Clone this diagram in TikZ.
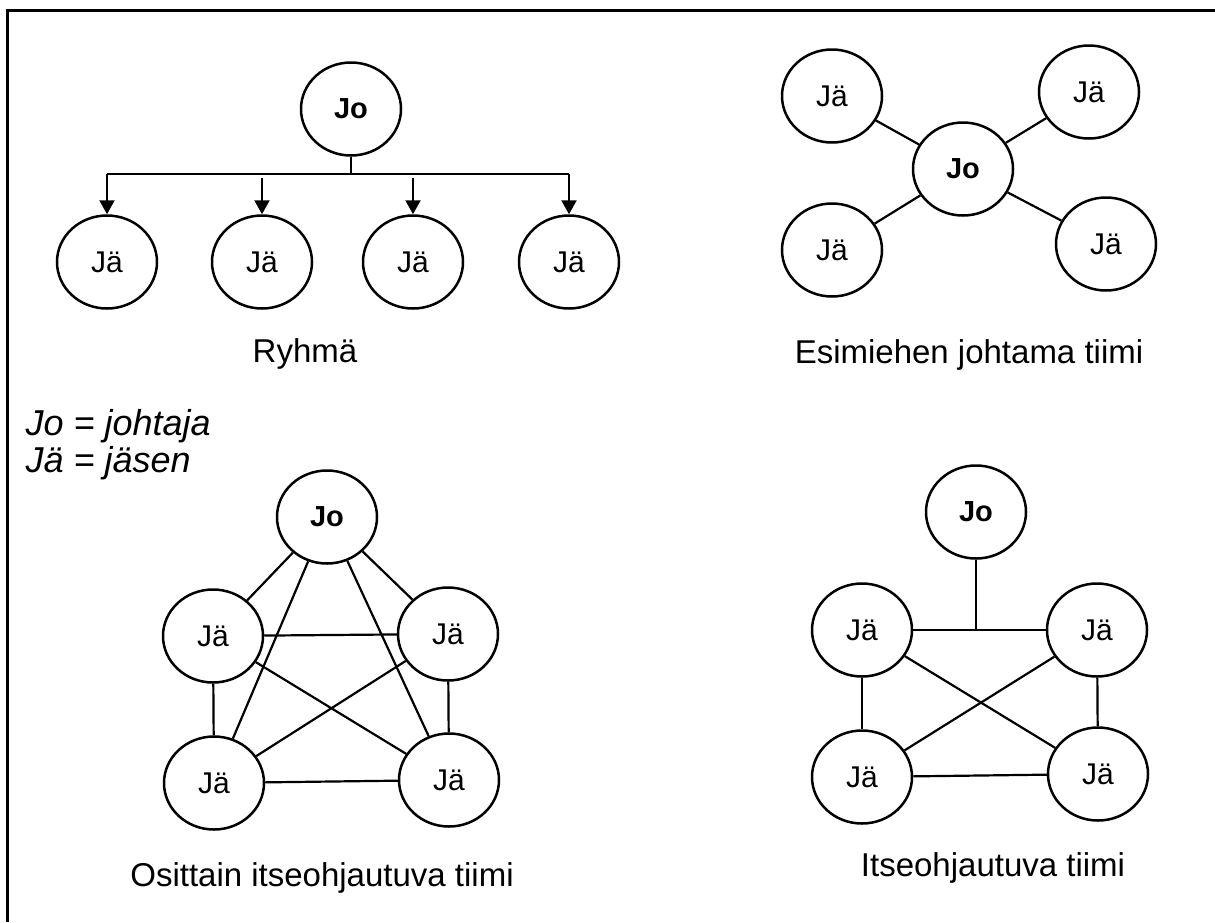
\documentclass[tikz,border=0pt]{standalone}
\usepackage{fontspec}
\setmainfont{Liberation Sans}
\usetikzlibrary{shapes.geometric,arrows.meta}
\begin{document}
\begin{tikzpicture}[x=1pt,y=-1pt,
  mem/.style={ellipse,draw,line width=2.5pt,minimum width=100pt,minimum height=93pt,inner sep=0pt,font=\fontsize{30}{32}\selectfont},
  lead/.style={mem,font=\fontsize{29}{32}\selectfont\bfseries},
  link/.style={line width=2.2pt},
  arr/.style={line width=2.2pt,-{Triangle[length=14pt,width=15pt]}},
  capt/.style={anchor=base,font=\fontsize{33}{36}\selectfont},
  legend/.style={anchor=base west,font=\fontsize{36}{40}\selectfont\itshape},
  frame/.style={line width=3pt}]
\useasboundingbox (0,0) rectangle (1215,922);
% frame (top and left)
\coordinate (fTL) at (7,10);
\coordinate (fTR) at (1215,10);
\coordinate (fBL) at (7,922);
\draw[frame] (fTR) -- (fTL) -- (fBL);

% ---------- Ryhma ----------
\node[lead] (rJo) at (351,109) {Jo};
\node[mem] (r1) at (107,262) {Jä};
\node[mem] (r2) at (262,262) {Jä};
\node[mem] (r3) at (413,262) {Jä};
\node[mem] (r4) at (569,262) {Jä};
\coordinate (rbus) at (351,174);
\draw[link] (rJo) -- (rbus);
\draw[link] (r1 |- rbus) -- (r4 |- rbus);
\draw[arr] (r1 |- rbus) -- (r1.north);
\draw[arr] (r4 |- rbus) -- (r4.north);
\draw[arr] ([yshift=-4pt]r2 |- rbus) -- (r2.north);
\draw[arr] ([yshift=-4pt]r3 |- rbus) -- (r3.north);
\node[capt] (rcap) at (305,362) {Ryhmä};

% ---------- Esimiehen johtama tiimi ----------
\node[lead] (eJo) at (963,169) {Jo};
\node[mem] (e1) at (832,96) {Jä};
\node[mem] (e2) at (1089,92) {Jä};
\node[mem] (e3) at (832,250) {Jä};
\node[mem] (e4) at (1106,244) {Jä};
\foreach \n in {e1,e2,e3,e4} \draw[link] (eJo) -- (\n);
\node[capt] (ecap) at (969,363) {Esimiehen johtama tiimi};

% ---------- legend ----------
\node[legend] (leg1) at (22,435) {Jo = johtaja};
\node[legend] (leg2) at (22,472) {Jä = jäsen};

% ---------- Osittain itseohjautuva tiimi ----------
\node[lead] (oJo) at (327,517) {Jo};
\node[mem] (o1) at (213,636) {Jä};
\node[mem] (o2) at (448,634) {Jä};
\node[mem] (o3) at (214,783) {Jä};
\node[mem] (o4) at (449,780) {Jä};
\draw[link] (oJo) -- (o1);
\draw[link] (oJo) -- (o2);
\draw[link] (oJo) -- (o3);
\draw[link] (oJo) -- (o4);
\draw[link] (o1) -- (o2);
\draw[link] (o1) -- (o3);
\draw[link] (o1) -- (o4);
\draw[link] (o2) -- (o3);
\draw[link] (o2) -- (o4);
\draw[link] (o3) -- (o4);
\node[capt] (ocap) at (322,886) {Osittain itseohjautuva tiimi};

% ---------- Itseohjautuva tiimi ----------
\node[lead] (iJo) at (976,512) {Jo};
\node[mem] (i1) at (862,630) {Jä};
\node[mem] (i2) at (1097,630) {Jä};
\node[mem] (i3) at (862,777) {Jä};
\node[mem] (i4) at (1098,774) {Jä};
\draw[link] (i1) -- (i2);
\draw[link] (iJo) -- (iJo |- i1);
\draw[link] (i1) -- (i3);
\draw[link] (i2) -- (i4);
\draw[link] (i1) -- (i4);
\draw[link] (i2) -- (i3);
\draw[link] (i3) -- (i4);
\node[capt] (icap) at (993,876) {Itseohjautuva tiimi};
\end{tikzpicture}
\end{document}
